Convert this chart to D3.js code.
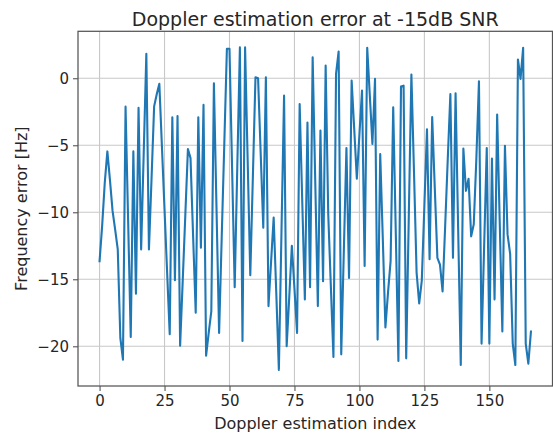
<!DOCTYPE html>
<html>
<head>
<meta charset="utf-8">
<script src="https://cdn.jsdelivr.net/npm/d3@7"></script>
<style>
  html, body { margin: 0; padding: 0; background: #ffffff; }
  svg { display: block; }
  text { font-family: "DejaVu Sans", sans-serif; }
</style>
</head>
<body>
<svg id="chart" width="553" height="433"></svg>
<script>
// ---- data ----
const titleText = "Doppler estimation error at -15dB SNR";
const xLabelText = "Doppler estimation index";
const yLabelText = "Frequency error [Hz]";
const xTicks = [0, 25, 50, 75, 100, 125, 150];
const yTicks = [-20, -15, -10, -5, 0];
const errorHz = [
  -13.65, -11.0, -7.8, -5.46, -7.6, -9.9, -11.3, -12.77, -19.4, -21.0,
  -2.12, -10.7, -19.3, -5.46, -16.07, -2.2, -12.77, -5.5, 1.82, -12.77,
  -7.5, -2.1, -1.2, -0.42, -5.1, -9.8, -14.5, -19.1, -2.92, -15.07,
  -2.82, -19.96, -15.1, -10.2, -5.29, -5.96, -11.8, -17.5, -2.92, -12.65,
  -1.99, -20.7, -19.0, -17.4, -0.37, -9.7, -19.0, -11.9, -4.9, 2.2,
  2.2, -6.7, -15.6, -6.6, 2.3, -19.6, 2.3, -6.2, -14.7, -7.3,
  0.07, 0.0, -5.6, -11.15, 0.07, -17.0, -13.7, -10.4, -16.0, -21.76,
  -11.5, -1.3, -20.0, -16.3, -12.5, -15.7, -19.0, -1.92, -9.2, -16.5,
  -3.3, -15.6, 1.57, -7.7, -17.0, -3.9, -15.15, 0.95, -10.15, -15.5,
  -20.8, 0.32, 2.0, -20.6, -12.9, -5.2, -14.9, -0.17, -3.8, -7.5,
  -4.2, -0.92, -14.0, 2.27, -1.3, -4.9, -0.05, -19.5, -5.66, -12.0,
  -18.6, -16.0, -13.65, -2.17, -11.6, -21.1, -0.62, -0.55, -20.9, -10.3,
  0.27, -7.0, -14.5, -16.8, -15.1, -9.5, -3.8, -13.5, -2.9, -8.2,
  -13.4, -13.9, -15.9, -11.0, -6.0, -1.17, -13.4, -1.12, -11.3, -21.4,
  -5.24, -8.4, -7.5, -11.8, -10.9, -6.0, -0.22, -19.8, -12.5, -5.2,
  -19.8, -6.0, -16.5, -2.7, -10.8, -18.9, -5.04, -11.65, -13.1, -19.8,
  -21.4, 1.4, -0.05, 2.27, -19.8, -21.3, -18.9
];
const indices = errorHz.map((_, i) => i);

// ---- layout ----
const L = 78, R = 552.5, T = 31.3, B = 386;
const svg = d3.select("#chart");

function padded(ext) {
  const span = ext[1] - ext[0];
  return [ext[0] - span * 0.05, ext[1] + span * 0.05];
}
const x = d3.scaleLinear().domain(padded(d3.extent(indices))).range([L, R]);
const y = d3.scaleLinear().domain(padded(d3.extent(errorHz))).range([B, T]);

// grid
const grid = svg.append("g");
grid.selectAll("line.gx").data(xTicks).join("line")
  .attr("x1", d => x(d)).attr("x2", d => x(d))
  .attr("y1", T).attr("y2", B)
  .attr("stroke", "#c8c8c8").attr("stroke-width", 1.1);
grid.selectAll("line.gy").data(yTicks).join("line")
  .attr("y1", d => y(d)).attr("y2", d => y(d))
  .attr("x1", L).attr("x2", R)
  .attr("stroke", "#c8c8c8").attr("stroke-width", 1.1);

// line
const line = d3.line().x((d, i) => x(i)).y(d => y(d));
svg.append("path").datum(errorHz)
  .attr("d", line)
  .attr("fill", "none")
  .attr("stroke", "#1f77b4")
  .attr("stroke-width", 2.1)
  .attr("stroke-linejoin", "round")
  .attr("stroke-linecap", "square");

// axes
const fmt = d => (d < 0 ? "\u2212" + Math.abs(d) : String(d));
const xAxis = d3.axisBottom(x).tickValues(xTicks).tickFormat(fmt).tickSize(5).tickPadding(4);
const yAxis = d3.axisLeft(y).tickValues(yTicks).tickFormat(fmt).tickSize(5).tickPadding(4);

const gx = svg.append("g").attr("transform", `translate(0,${B})`).call(xAxis);
const gy = svg.append("g").attr("transform", `translate(${L},0)`).call(yAxis);
[gx, gy].forEach(g => {
  g.select(".domain").remove();
  g.selectAll(".tick line").attr("stroke", "#555555").attr("stroke-width", 1.1);
  g.selectAll(".tick text").attr("fill", "#262626")
    .style("font-family", "'DejaVu Sans', sans-serif").style("font-size", "15px");
});

// frame
svg.append("rect")
  .attr("x", L).attr("y", T).attr("width", R - L).attr("height", B - T)
  .attr("fill", "none").attr("stroke", "#555555").attr("stroke-width", 1.25);

// labels
svg.append("text")
  .attr("x", (L + R) / 2).attr("y", 25.5)
  .attr("text-anchor", "middle")
  .attr("fill", "#262626")
  .style("font-size", "19px")
  .text(titleText);

svg.append("text")
  .attr("x", (L + R) / 2).attr("y", 428.5)
  .attr("text-anchor", "middle")
  .attr("fill", "#262626")
  .style("font-size", "16px")
  .text(xLabelText);

svg.append("text")
  .attr("transform", `translate(26.5,${(T + B) / 2}) rotate(-90)`)
  .attr("text-anchor", "middle")
  .attr("fill", "#262626")
  .style("font-size", "16px")
  .text(yLabelText);
</script>
</body>
</html>
